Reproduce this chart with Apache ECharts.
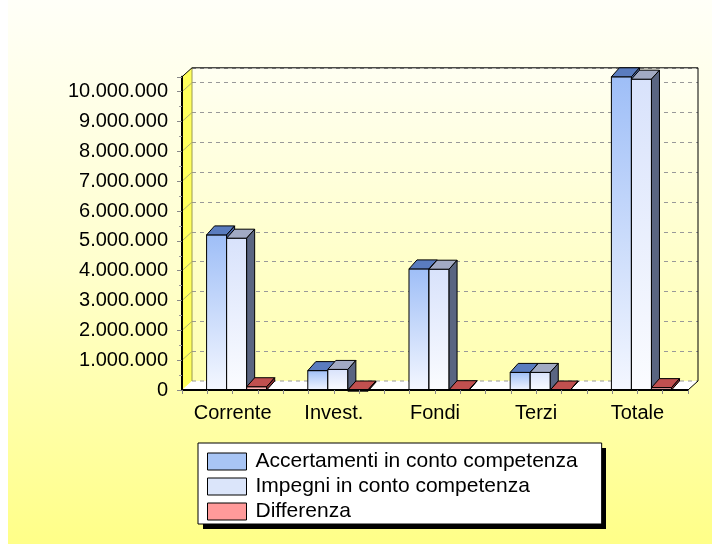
<!DOCTYPE html>
<html lang="it">
<head>
<meta charset="UTF-8">
<title>Accertamenti e impegni in conto competenza</title>
<style>
    html, body { margin: 0; padding: 0; background: #fff; }
    #chart { width: 712px; height: 544px; }
</style>
</head>
<body>
<div id="chart"></div>
<script src="https://cdn.jsdelivr.net/npm/echarts@6/dist/echarts.min.js"></script>
<script>
    // dati
    var categories = ['Corrente', 'Invest.', 'Fondi', 'Terzi', 'Totale'];
    var accertamenti = [5200000, 650000, 4060000, 590000, 10500000];
    var impegni = [5090000, 690000, 4050000, 590000, 10420000];
    var differenza = [110000, -40000, 10000, 0, 80000];
    var seriesNames = ['Accertamenti in conto competenza', 'Impegni in conto competenza', 'Differenza'];

    var FONT = 'Arial, "Liberation Sans", sans-serif';
    // profondita' del finto 3D (pareti e barre)
    var WALL_DX = 10, WALL_DY = -9;
    var BAR_DX = 8, BAR_DY = -9;

    var colori = [
        {front: ['#9ebef7', '#f4f7ff'], top: '#5a7cbf', side: '#4a64a0', legend: '#a8c5f5'},
        {front: ['#d8e2fb', '#fbfcff'], top: '#a2aac3', side: '#5a6581', legend: '#dbe5fa'},
        {front: ['#ff9c9c', '#ffd0d0'], top: '#c0504f', side: '#8a2f2f', legend: '#ff9a9a'}
    ];

    function puntini(v) {
        return String(v).replace(/\B(?=(\d{3})+(?!\d))/g, '.');
    }

    function toPairs(arr) {
        return arr.map(function (v, i) { return [i, v]; });
    }

    // pareti: sinistra gialla, pavimento bianco, bordi
    function renderPareti(params, api) {
        var cs = params.coordSys;
        var x = cs.x, y = cs.y, w = cs.width, h = cs.height;
        var dx = WALL_DX, dy = WALL_DY;
        var children = [
            {type: 'polygon', shape: {points: [[x, y], [x + dx, y + dy], [x + dx, y + h + dy], [x, y + h]]},
                style: {fill: '#ffff5c'}},
            {type: 'polygon', shape: {points: [[x, y + h], [x + dx, y + h + dy], [x + w + dx, y + h + dy], [x + w, y + h]]},
                style: {fill: '#ffffff'}},
            {type: 'line', shape: {x1: x + dx, y1: y + h + dy, x2: x + w + dx, y2: y + h + dy},
                style: {stroke: '#999999', lineWidth: 1, lineDash: [4, 4]}},
            {type: 'line', shape: {x1: x + dx, y1: y + dy, x2: x + dx, y2: y + h + dy},
                style: {stroke: '#9a9a50', lineWidth: 1}}
        ];
        for (var v = 1000000; v <= 10000000; v += 1000000) {
            var yy = api.coord([0, v])[1];
            children.push({type: 'line', shape: {x1: x, y1: yy, x2: x + dx, y2: yy + dy},
                style: {stroke: '#b0b070', lineWidth: 1}});
        }
        children.push({type: 'polyline',
            shape: {points: [[x, y], [x + dx, y + dy], [x + w + dx, y + dy], [x + w + dx, y + h + dy], [x + w, y + h]]},
            style: {stroke: '#000', lineWidth: 1, fill: 'none'}});
        return {type: 'group', children: children};
    }

    function barre(s) {
        var c = colori[s];
        var grad = new echarts.graphic.LinearGradient(0, 0, 0, 1, [
            {offset: 0, color: c.front[0]}, {offset: 1, color: c.front[1]}
        ]);
        return function (params, api) {
            var cat = api.value(0);
            var base = api.coord([cat, 0]);
            var top = api.coord([cat, api.value(1)]);
            var band = api.size([1, 0])[0];
            var bw = band * 0.198;
            var x0 = base[0] - band * 0.257 + s * bw;
            var yt = Math.min(base[1], top[1]), yb = Math.max(base[1], top[1]);
            var dx = BAR_DX, dy = BAR_DY;
            return {type: 'group', children: [
                {type: 'rect', shape: {x: x0, y: yt, width: bw, height: yb - yt},
                    style: {fill: grad, stroke: '#000', lineWidth: 1}},
                {type: 'polygon', shape: {points: [[x0, yt], [x0 + dx, yt + dy], [x0 + bw + dx, yt + dy], [x0 + bw, yt]]},
                    style: {fill: c.top, stroke: '#000', lineWidth: 1}},
                {type: 'polygon', shape: {points: [[x0 + bw, yt], [x0 + bw + dx, yt + dy], [x0 + bw + dx, yb + dy], [x0 + bw, yb]]},
                    style: {fill: c.side, stroke: '#000', lineWidth: 1}}
            ]};
        };
    }

    var chart = echarts.init(document.getElementById('chart'));

    var gridFront = {left: 182, top: 76.8, width: 506, height: 313.2};

    chart.setOption({
        animation: false,
        graphic: [{
            type: 'rect', z: -10, silent: true,
            shape: {x: 8, y: 0, width: 704, height: 544},
            style: {fill: new echarts.graphic.LinearGradient(0, 0, 0, 1, [
                {offset: 0, color: '#fffff8'}, {offset: 0.5, color: '#ffffcc'}, {offset: 1, color: '#ffff88'}
            ])}
        }, {
            // ombra della legenda
            type: 'rect', z: 3, silent: true,
            shape: {x: 203, y: 448, width: 403, height: 81},
            style: {fill: '#000'}
        }],
        grid: [
            {left: gridFront.left, top: gridFront.top, width: gridFront.width, height: gridFront.height,
                outerBoundsMode: 'none'},
            {left: gridFront.left + WALL_DX, top: gridFront.top + WALL_DY, width: gridFront.width, height: gridFront.height,
                outerBoundsMode: 'none', show: true, borderWidth: 0,
                backgroundColor: {type: 'linear', x: 0, y: 0, x2: 0, y2: 1, colorStops: [
                    {offset: 0, color: '#fffff2'}, {offset: 1, color: '#ffffb0'}
                ]}}
        ],
        xAxis: [
            {type: 'category', gridIndex: 0, data: categories, z: 5,
                axisLine: {onZero: false, lineStyle: {color: '#000', width: 2}},
                axisTick: {alignWithLabel: true, length: 7, lineStyle: {color: '#888'}},
                axisLabel: {fontFamily: FONT, fontSize: 20, color: '#000', margin: 13}},
            {type: 'value', gridIndex: 0, position: 'bottom', min: -0.5, max: 4.5, interval: 0.25, z: 5,
                axisLine: {show: false, onZero: false}, axisLabel: {show: false}, splitLine: {show: false},
                axisTick: {length: 4, lineStyle: {color: '#888'}}},
            {type: 'category', gridIndex: 1, data: categories, show: false}
        ],
        yAxis: [
            {type: 'value', gridIndex: 0, min: 0, max: 10500000, interval: 1000000, z: 5,
                axisLine: {show: true, onZero: false, lineStyle: {color: '#000', width: 2}},
                axisTick: {show: true, length: 5, lineStyle: {color: '#888'}},
                minorTick: {show: true, splitNumber: 2, length: 3, lineStyle: {color: '#999'}},
                splitLine: {show: false},
                axisLabel: {fontFamily: FONT, fontSize: 20, color: '#000', margin: 14,
                    formatter: function (v) { return v % 1000000 === 0 ? puntini(v) : ''; }}},
            {type: 'value', gridIndex: 1, min: 0, max: 10500000, interval: 1000000,
                axisLine: {show: false, onZero: false}, axisTick: {show: false}, axisLabel: {show: false},
                splitLine: {show: true, lineStyle: {color: '#999', width: 1, type: [4, 4]}}}
        ],
        legend: {
            orient: 'vertical', left: 198, top: 443, z: 4,
            padding: [8, 24, 2, 9], itemGap: 4, itemWidth: 39, itemHeight: 17,
            backgroundColor: '#fff', borderColor: '#000', borderWidth: 1,
            selectedMode: false,
            textStyle: {fontFamily: FONT, fontSize: 21, color: '#000', lineHeight: 21, padding: [0, 0, 0, 4]},
            data: seriesNames.map(function (n, i) {
                return {name: n, icon: 'rect',
                    itemStyle: {color: colori[i].legend, borderColor: '#000', borderWidth: 1}};
            })
        },
        series: [
            {type: 'custom', name: 'pareti', xAxisIndex: 0, yAxisIndex: 0, z: 1, silent: true,
                renderItem: renderPareti, data: [[0, 0]]},
            {type: 'custom', name: seriesNames[0], xAxisIndex: 0, yAxisIndex: 0, z: 2,
                itemStyle: {color: colori[0].legend}, renderItem: barre(0), data: toPairs(accertamenti)},
            {type: 'custom', name: seriesNames[1], xAxisIndex: 0, yAxisIndex: 0, z: 2,
                itemStyle: {color: colori[1].legend}, renderItem: barre(1), data: toPairs(impegni)},
            {type: 'custom', name: seriesNames[2], xAxisIndex: 0, yAxisIndex: 0, z: 2,
                itemStyle: {color: colori[2].legend}, renderItem: barre(2), data: toPairs(differenza)}
        ]
    });

    window.addEventListener('resize', function () {
        chart.resize();
    });
</script>
</body>
</html>
